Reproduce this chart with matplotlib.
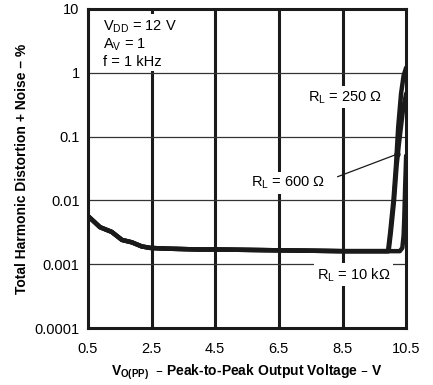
import matplotlib
matplotlib.use("Agg")
import matplotlib.pyplot as plt

plt.rcParams['font.family'] = ['Liberation Sans', 'DejaVu Sans']
plt.rcParams['mathtext.default'] = 'regular'

# common low-level part of all three curves
base_v = [0.5, 0.88, 1.25, 1.57, 1.88, 2.19, 2.45, 3.0, 4.0, 4.5, 6.5, 8.5, 9.5]
base_thd = [0.0057, 0.0038, 0.0032, 0.0024, 0.0022, 0.0019, 0.0018, 0.00175, 0.0017,
            0.0017, 0.00165, 0.0016, 0.0016]

# clipping tails
v_250 = [9.93, 10.0, 10.1, 10.18, 10.25, 10.34, 10.42, 10.5]
thd_250 = [0.0016, 0.0032, 0.01, 0.035, 0.14, 0.47, 0.9, 1.2]
v_600 = [9.95, 10.02, 10.12, 10.2, 10.27, 10.4, 10.5]
thd_600 = [0.0016, 0.0032, 0.01, 0.035, 0.075, 0.26, 0.47]
v_10k = [10.3, 10.38, 10.42, 10.44, 10.47, 10.5]
thd_10k = [0.0016, 0.0018, 0.0028, 0.005, 0.017, 0.05]

xticks = [0.5, 2.5, 4.5, 6.5, 8.5, 10.5]
yticks = [0.0001, 0.001, 0.01, 0.1, 1, 10]
ylabels = ['0.0001', '0.001', '0.01', '0.1', '1', '10']

fig = plt.figure(figsize=(4.33, 3.85), dpi=100)
ax = fig.add_axes([0.203, 0.148, 0.735, 0.829])

ax.set_yscale('log')
ax.set_xlim(0.5, 10.5)
ax.set_ylim(0.0001, 10)
ax.set_xticks(xticks)
ax.set_xticklabels([str(x) for x in xticks])
ax.set_yticks(yticks)
ax.set_yticklabels(ylabels)
ax.yaxis.set_minor_locator(matplotlib.ticker.NullLocator())
ax.tick_params(length=0, labelsize=10.5)
ax.tick_params(axis='x', pad=10)
ax.tick_params(axis='y', pad=6)

for x in xticks[1:-1]:
    ax.axvline(x, color='#1a1a1a', lw=2.2, zorder=1)
for y in yticks[1:-1]:
    ax.axhline(y, color='#333333', lw=0.9, zorder=1)
for s in ax.spines.values():
    s.set_linewidth(2.2)
    s.set_color('#1a1a1a')

for tv, tt in [(v_250, thd_250), (v_600, thd_600), (v_10k, thd_10k)]:
    ax.plot(base_v + tv, base_thd + tt, color='#1a1a1a', lw=3.2,
            solid_joinstyle='round', solid_capstyle='round', zorder=5, clip_on=True)

box = dict(facecolor='white', edgecolor='none', pad=2)
ax.text(0.047, 0.97, 'V$_{DD}$ = 12 V\nA$_V$ = 1\nf = 1 kHz', transform=ax.transAxes,
        fontsize=10.5, va='top', ha='left', linespacing=1.15, bbox=box, zorder=3)
ax.text(8.58, 0.41, 'R$_L$ = 250 Ω', fontsize=10.5, ha='center', va='center',
        bbox=box, zorder=3)
ax.text(6.8, 0.019, 'R$_L$ = 600 Ω', fontsize=10.5, ha='center', va='center',
        bbox=box, zorder=3)
ax.text(8.85, 0.00068, 'R$_L$ = 10 kΩ', fontsize=10.5, ha='center', va='center',
        bbox=box, zorder=3)

# leader for the 600 ohm label
ax.plot([8.35, 10.22], [0.0235, 0.053], color='#1a1a1a', lw=0.9, zorder=4)
ax.plot([10.22], [0.053], 'o', color='#1a1a1a', ms=3.5, zorder=6)

ax.set_ylabel('Total Harmonic Distortion + Noise – %', fontsize=10, fontweight='bold',
              labelpad=4)
ax.set_xlabel('V$_{O(PP)}$  – Peak-to-Peak Output Voltage – V', fontsize=10,
              fontweight='bold', labelpad=5)

fig.savefig('out.png', dpi=100)
